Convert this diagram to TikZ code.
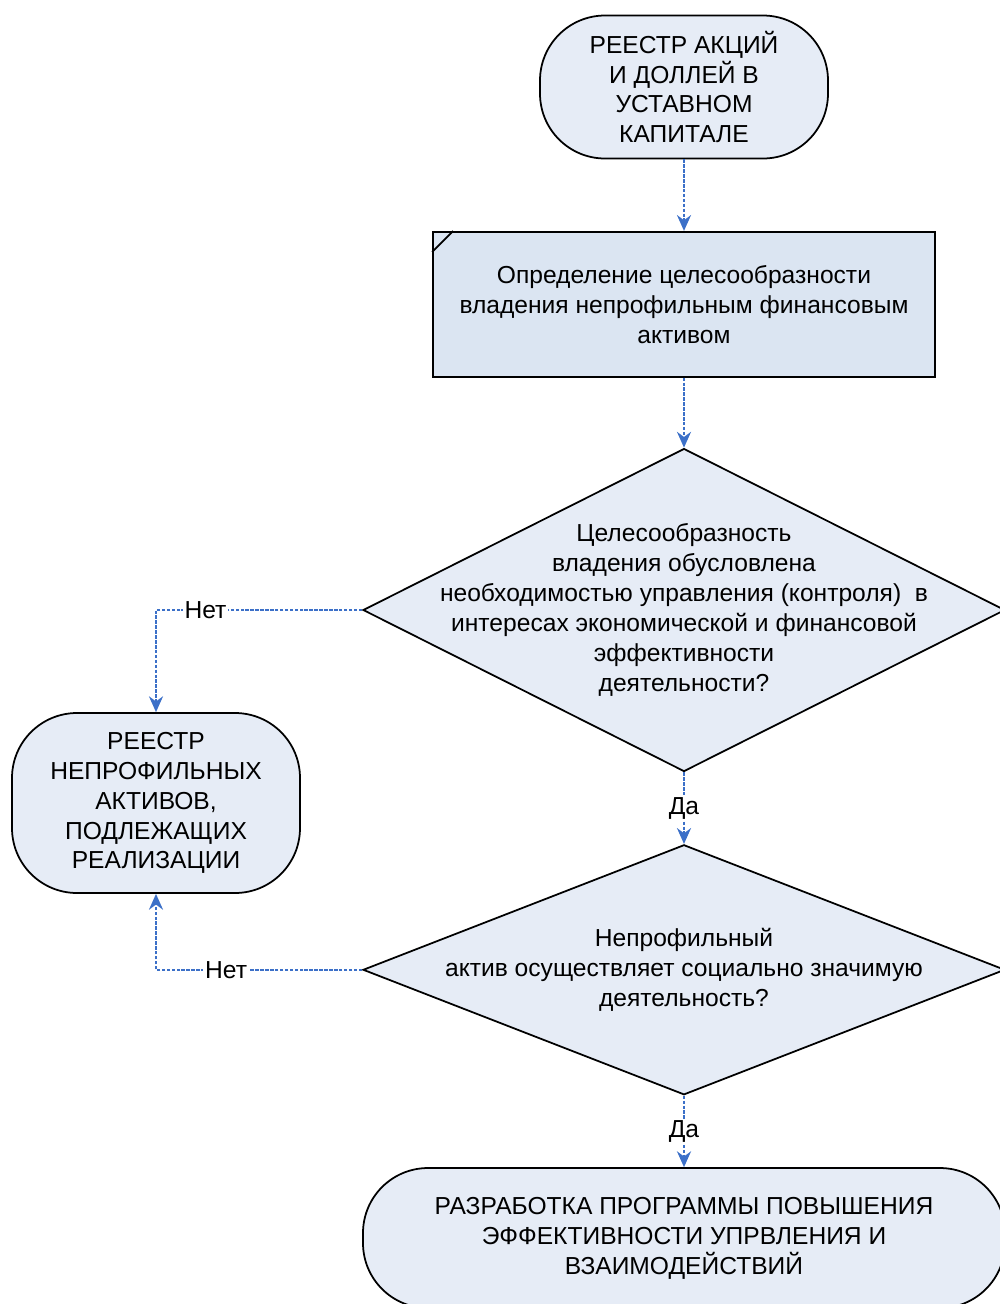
\documentclass[tikz,border=0pt]{standalone}
\usepackage{fontspec}
\setmainfont{Liberation Sans}
\definecolor{boxfill}{RGB}{230,236,246}
\definecolor{procfill}{RGB}{219,229,242}
\definecolor{flowblue}{RGB}{60,112,200}
\usetikzlibrary{arrows.meta, shapes.geometric, positioning, calc}

\begin{document}
\begin{tikzpicture}[
        font=\fontsize{14}{17}\selectfont,
        node distance=1.43cm,
        term/.style={draw, line width=1pt, fill=boxfill, rounded corners=1.3cm,
                     align=center, inner sep=2pt},
        proc/.style={draw, line width=1pt, fill=procfill, minimum width=10.04cm,
                     minimum height=2.9cm, align=center},
        decision/.style={draw, line width=1pt, diamond, fill=boxfill,
                         minimum width=12.84cm, inner sep=0pt},
        arr/.style={-{Stealth[length=9pt, width=8pt]}, line width=1.1pt,
                    dash pattern=on 2pt off 0.8pt, flowblue},
        lbl/.style={fill=white, inner sep=1pt, text=black}
      ]
        \useasboundingbox (0,0) rectangle (20,-26.08);
        \node[term, minimum width=5.76cm, minimum height=2.86cm] (share)
          at (13.68,-1.74) {РЕЕСТР АКЦИЙ\\И ДОЛЛЕЙ В\\УСТАВНОМ\\КАПИТАЛЕ};
        \node[proc, below=of share] (expedient)
          {Определение целесообразности\\владения непрофильным финансовым\\активом};
        \draw[line width=1pt] ($(expedient.north west)+(0,-0.42)$)
          -- ($(expedient.north west)+(0.42,0)$);
        \node[decision, minimum height=6.46cm, below=1.4cm of expedient] (control) {};
        \node[align=center] at (control)
          {Целесообразность\\владения обусловлена\\необходимостью управления (контроля)~~в\\интересах экономической и финансовой\\эффективности\\деятельности?};
        \node[decision, minimum height=5cm, below=of control] (social) {};
        \node[align=center] at (social)
          {Непрофильный\\актив осуществляет социально значимую\\деятельность?};
        \node[term, minimum width=12.84cm, minimum height=2.8cm, below=of social]
          (program) {РАЗРАБОТКА ПРОГРАММЫ ПОВЫШЕНИЯ\\ЭФФЕКТИВНОСТИ УПРВЛЕНИЯ И\\ВЗАИМОДЕЙСТВИЙ};
        \node[term, minimum width=5.76cm, minimum height=3.6cm] (register)
          at (3.12,-16.06) {РЕЕСТР\\НЕПРОФИЛЬНЫХ\\АКТИВОВ,\\ПОДЛЕЖАЩИХ\\РЕАЛИЗАЦИИ};
        \draw[arr] (share) -- (expedient);
        \draw[arr] (expedient) -- (control);
        \draw[arr] (control.west) -| node[lbl, pos=0.38] {Нет} (register.north);
        \draw[arr] (control.south) -- node[lbl] {Да} (social.north);
        \draw[arr] (social.west) -| node[lbl, pos=0.33] {Нет} (register.south);
        \draw[arr] (social.south) -- node[lbl] {Да} (program.north);
      \end{tikzpicture}
\end{document}
